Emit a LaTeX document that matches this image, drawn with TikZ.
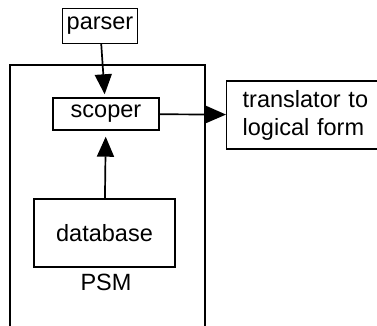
\documentclass[tikz,border=0pt]{standalone}
\usepackage{fontspec}
\setmainfont{Liberation Sans}
\usetikzlibrary{arrows.meta}
\tikzset{
  box/.style={draw, line width=1.4pt, inner sep=0pt},
  link/.style={line width=1.7pt, -{Triangle[length=20pt,width=17pt]}},
}
\begin{document}
\begin{tikzpicture}[x=1pt, y=-1pt, font=\fontsize{23.5}{28}\selectfont]
    \useasboundingbox (0,0) rectangle (377,326);
    % PSM frame, open at the bottom
    \draw[line width=1.4pt] (10,330) -- (10,65) -- (205,65) -- (205,330);
    \node[box, minimum width=75pt, minimum height=35pt] (parser) at (100,26) {parser};
    \node[box, minimum width=106pt, minimum height=32pt] (scoper) at (106,114) {scoper};
    \node[box, minimum width=141pt, minimum height=68pt] (database) at (104.5,233) {database};
    \node (psm) at (106,282) {PSM};
    % translator box runs off the right edge
    \node[box, anchor=west, minimum height=68pt, text width=140pt, inner xsep=16pt, align=left] (translator) at (226,115)
      {translator to\\logical form};
    % arrows
    \draw[link, shorten >=3pt] (parser) -- (scoper);
    \draw[link, shorten >=6pt] (database) -- (scoper);
    \draw[link] (scoper) -- (translator);
  \end{tikzpicture}
\end{document}
